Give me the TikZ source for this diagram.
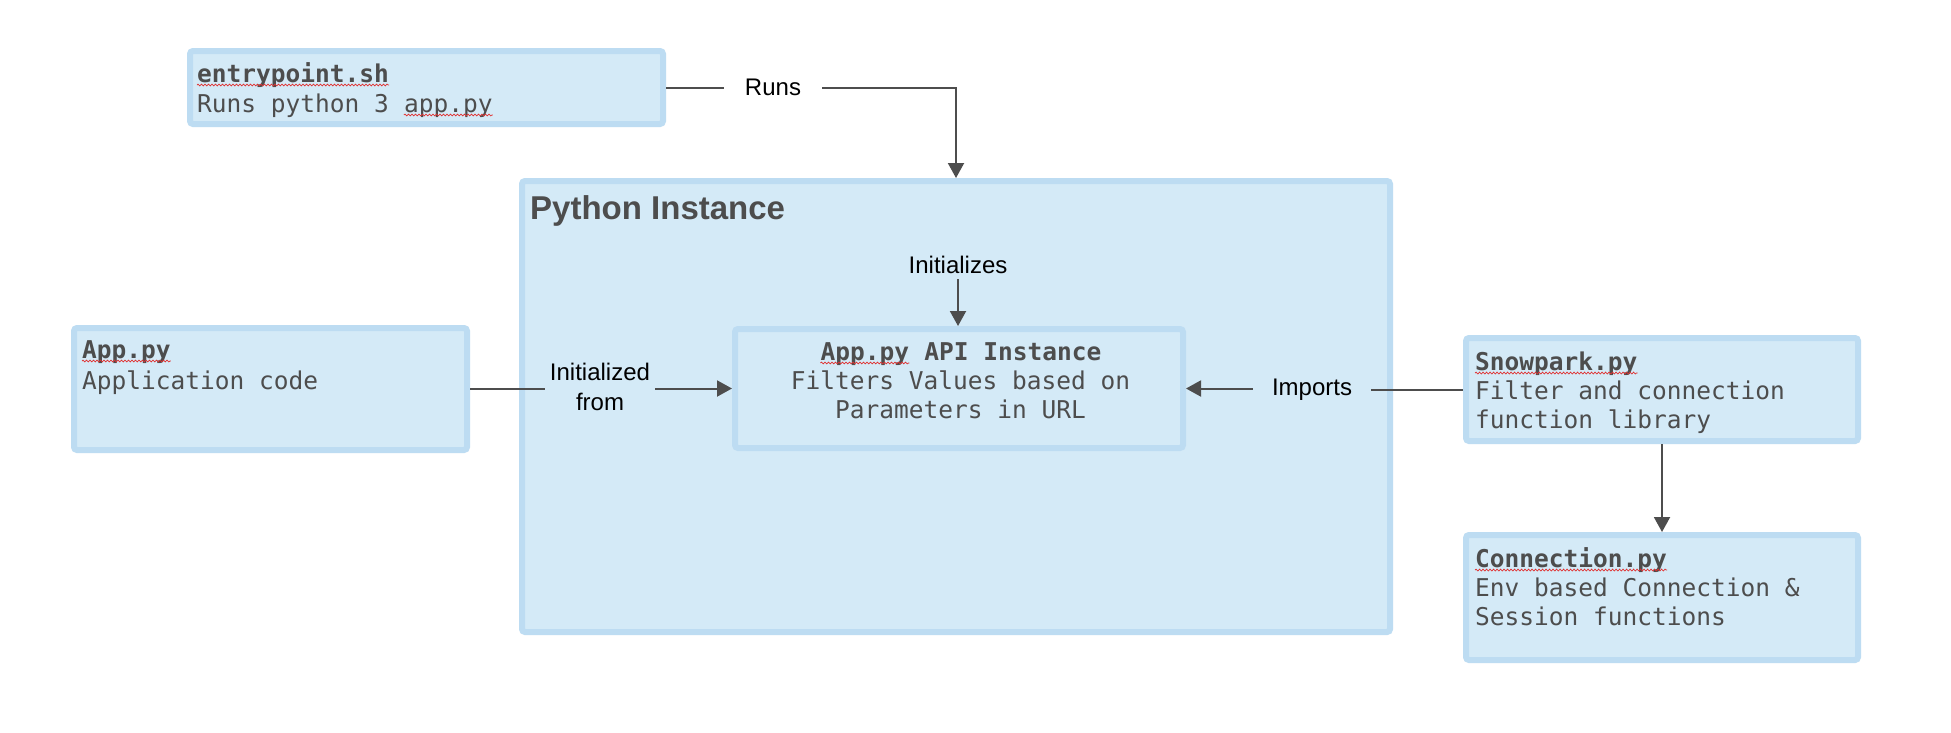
\documentclass[tikz,border=0pt]{standalone}
\usepackage{fontspec}
\setmainfont{Liberation Sans}
\newfontfamily\monof{DejaVu Sans Mono}
\usetikzlibrary{arrows.meta,decorations.pathmorphing}
\definecolor{boxfill}{HTML}{D4EAF7}
\definecolor{boxline}{HTML}{BDDCF2}
\definecolor{ink}{HTML}{4D4D4D}
\definecolor{squig}{HTML}{E03030}
\tikzset{
  box/.style={draw=boxline, fill=boxfill, line width=6pt, rounded corners=3pt, inner sep=0pt},
  mtxt/.style={font=\monof\fontsize{24.5}{29}\selectfont, text=ink, inner sep=0pt, anchor=base west},
  mtxtb/.style={mtxt, font=\monof\bfseries\fontsize{24.5}{29}\selectfont},
  lbl/.style={font=\fontsize{24}{30}\selectfont, text=black, inner sep=0pt},
  conn/.style={draw=ink, line width=2pt},
  arr/.style={conn, -{Triangle[length=15pt,width=16pt]}},
  sq/.style={draw=squig, line width=0.7pt, decorate, decoration={snake, amplitude=0.9pt, segment length=3.5pt}}
}
\newcommand\squnder[1]{\draw[sq] ([yshift=-3pt]#1.base west) -- ([yshift=-3pt]#1.base east);}
\begin{document}
\begin{tikzpicture}[x=1pt,y=-1pt]
\useasboundingbox (0,0) rectangle (1951,732);
\fill[white] (0,0) rectangle (1951,732);
% boxes
\node[box, minimum width=868pt, minimum height=451pt] (pyi) at (956,406.5) {};
\node[box, minimum width=473pt, minimum height=73pt] (ent) at (426.5,87.5) {};
\node[box, minimum width=393pt, minimum height=122pt] (app) at (270.5,389) {};
\node[box, minimum width=448pt, minimum height=119pt] (api) at (959,388.5) {};
\node[box, minimum width=392pt, minimum height=103pt] (snow) at (1662,389.5) {};
\node[box, minimum width=392pt, minimum height=125pt] (conn) at (1662,597.5) {};
% texts
\node[anchor=base west, inner sep=0pt, text=ink, font=\bfseries\fontsize{33}{38}\selectfont] (pyit) at (530,219) {Python Instance};
\node[mtxtb] (ent1) at (197,82) {entrypoint.sh};
\node[mtxt] (ent2) at (197,112) {Runs python 3};
\node[mtxt] (ent2b) at ([xshift=14.75pt]ent2.base east) {app.py};
\node[mtxtb] (app1) at (82,358) {App.py};
\node[mtxt] (app2) at (82,389) {Application code};
\node[mtxtb] (api1) at (820.4,360) {App.py};
\node[mtxtb] (api1b) at ([xshift=14.75pt]api1.base east) {API Instance};
\node[mtxt, anchor=base] (api2) at (960.5,389) {Filters Values based on};
\node[mtxt, anchor=base] (api3) at (960.5,418) {Parameters in URL};
\node[mtxtb] (snow1) at (1475,370) {Snowpark.py};
\node[mtxt] (snow2) at (1475,399) {Filter and connection};
\node[mtxt] (snow3) at (1475,428) {function library};
\node[mtxtb] (conn1) at (1475,567) {Connection.py};
\node[mtxt] (conn2) at (1475,596) {Env based Connection \&};
\node[mtxt] (conn3) at (1475,625) {Session functions};
% spell-check squiggles
\squnder{ent1}
\squnder{ent2b}
\squnder{app1}
\squnder{api1}
\squnder{snow1}
\squnder{conn1}
% labels and connectors
\node[lbl, anchor=base, inner xsep=21pt] (runs) at (773,95) {Runs};
\draw[conn] (ent.east) -- (runs.west |- ent.east);
\draw[arr] (runs.east |- ent.east) -| (pyi.north);
\node[lbl, anchor=base, inner ysep=6pt] (ini) at (958,273) {Initializes};
\draw[arr] (ini.south) -- (ini.south |- api.north);
\node[lbl, align=center, inner xsep=5pt] (initf) at (600,387) {Initialized\\from};
\draw[conn] (app.east) -- (initf.west |- app.east);
\draw[arr] (initf.east |- api.west) -- (api.west);
\node[lbl, anchor=base, inner xsep=19pt] (imp) at (1312,395) {Imports};
\draw[conn] (snow.west) -- (imp.east |- snow.west);
\draw[arr] (imp.west |- api.east) -- (api.east);
\draw[arr] (snow.south) -- (conn.north);
\end{tikzpicture}
\end{document}
